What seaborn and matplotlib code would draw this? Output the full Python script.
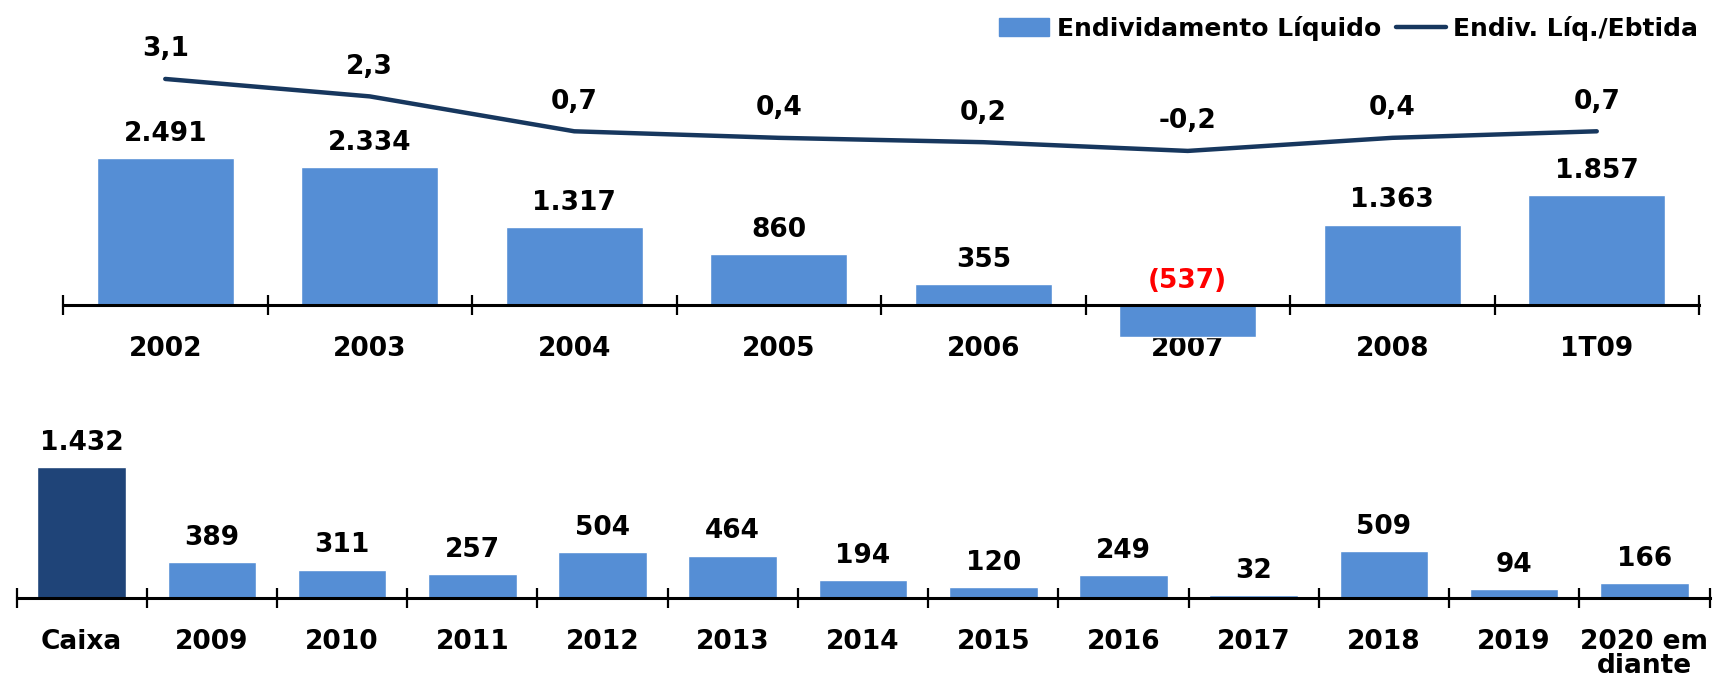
import numpy as np
import pandas as pd
import matplotlib
matplotlib.use("Agg")
import matplotlib.pyplot as plt
from matplotlib.patches import Patch
from matplotlib.lines import Line2D
import seaborn as sns

# data
periods = ["2002", "2003", "2004", "2005", "2006", "2007", "2008", "1T09"]
net_debt = [2491, 2334, 1317, 860, 355, -537, 1363, 1857]
debt_ebitda = [3.1, 2.3, 0.7, 0.4, 0.2, -0.2, 0.4, 0.7]

sched_labels = ["Caixa", "2009", "2010", "2011", "2012", "2013", "2014", "2015",
                "2016", "2017", "2018", "2019", "2020 em\ndiante"]
sched_values = [1432, 389, 311, 257, 504, 464, 194, 120, 249, 32, 509, 94, 166]

BLUE = "#558ED5"
NAVY = "#1F4478"
LINE = "#17375E"
FONT = 19

sns.set_theme(style="white")
plt.rcParams["font.family"] = ["DejaVu Sans"]
plt.rcParams["font.weight"] = "bold"
plt.rcParams["text.color"] = "black"
plt.rcParams["xtick.color"] = "black"
plt.rcParams["xtick.labelcolor"] = "black"

fig = plt.figure(figsize=(17.26, 6.86), dpi=100)


def fmt_int(v):
    s = f"{abs(v):,}".replace(",", ".")
    return f"({s})" if v < 0 else s


def style_axis(ax, n):
    for s in ["top", "right", "left"]:
        ax.spines[s].set_visible(False)
    ax.spines["bottom"].set_position(("data", 0))
    ax.spines["bottom"].set_linewidth(2.2)
    ax.spines["bottom"].set_color("black")
    ax.set_xlim(-0.5, n - 0.5)
    ax.set_xticks(np.arange(n))
    ax.set_xticks(np.arange(n + 1) - 0.5, minor=True)
    ax.tick_params(axis="x", which="major", bottom=True, length=0, pad=22,
                   labelsize=FONT, labelcolor="black")
    ax.tick_params(axis="x", which="minor", bottom=True, length=15, width=1.6,
                   direction="inout", color="black")
    ax.set_yticks([])
    ax.set_xlabel("")
    ax.set_ylabel("")
    for lab in ax.get_xticklabels():
        lab.set_fontweight("bold")


# top chart: net debt + ratio
ax1 = fig.add_axes([63 / 1726, (686 - 340) / 686, 1636 / 1726, 340 / 686])
df_top = pd.DataFrame({"periodo": periods, "divida": net_debt})
sns.barplot(data=df_top, x="periodo", y="divida", color=BLUE, width=0.67,
            ax=ax1, saturation=1)
ax1.set_ylim(-593, 5169)
style_axis(ax1, len(periods))
ax1.patch.set_alpha(0)

for i, v in enumerate(net_debt):
    ax1.annotate(fmt_int(v), (i, max(v, 0)), xytext=(0, 8),
                 textcoords="offset points", ha="center", va="bottom",
                 fontsize=FONT, fontweight="bold",
                 color="red" if v < 0 else "black")

ax2 = ax1.twinx()
sns.lineplot(x=np.arange(len(periods)), y=debt_ebitda, ax=ax2, color=LINE,
             linewidth=3.2)
ax2.set_ylim(-8.87, 6.72)
ax2.set_yticks([])
ax2.set_xlim(-0.5, len(periods) - 0.5)
for s in ax2.spines.values():
    s.set_visible(False)
for i, v in enumerate(debt_ebitda):
    ax2.annotate(f"{v:.1f}".replace(".", ","), (i, v), xytext=(0, 12),
                 textcoords="offset points", ha="center", va="bottom",
                 fontsize=FONT, fontweight="bold", color="black")

handles = [Patch(facecolor=BLUE, edgecolor=BLUE),
           Line2D([0], [0], color=LINE, lw=3.2)]
fig.legend(handles, ["Endividamento Líquido", "Endiv. Líq./Ebtida"],
           loc="upper right", bbox_to_anchor=(0.997, 1.01), ncol=2,
           frameon=False, prop={"weight": "bold", "size": 18},
           handlelength=2.0, handletextpad=0.3, columnspacing=0.6,
           labelcolor="black")

# bottom chart: amortization schedule
ax3 = fig.add_axes([16.5 / 1726, (686 - 598) / 686, 1693 / 1726, 188 / 686])
df_bot = pd.DataFrame({"ano": sched_labels, "valor": sched_values})
sns.barplot(data=df_bot, x="ano", y="valor", hue="ano",
            palette=[NAVY] + [BLUE] * (len(sched_labels) - 1), legend=False,
            width=0.68, ax=ax3, saturation=1)
ax3.set_ylim(0, 2055)
style_axis(ax3, len(sched_labels))
ax3.tick_params(axis="x", which="major", pad=22)
for lab in ax3.get_xticklabels():
    lab.set_linespacing(0.9)
for i, v in enumerate(sched_values):
    ax3.annotate(fmt_int(v), (i, v), xytext=(0, 8),
                 textcoords="offset points", ha="center", va="bottom",
                 fontsize=FONT, fontweight="bold", color="black")

fig.savefig("out.png", dpi=100)
